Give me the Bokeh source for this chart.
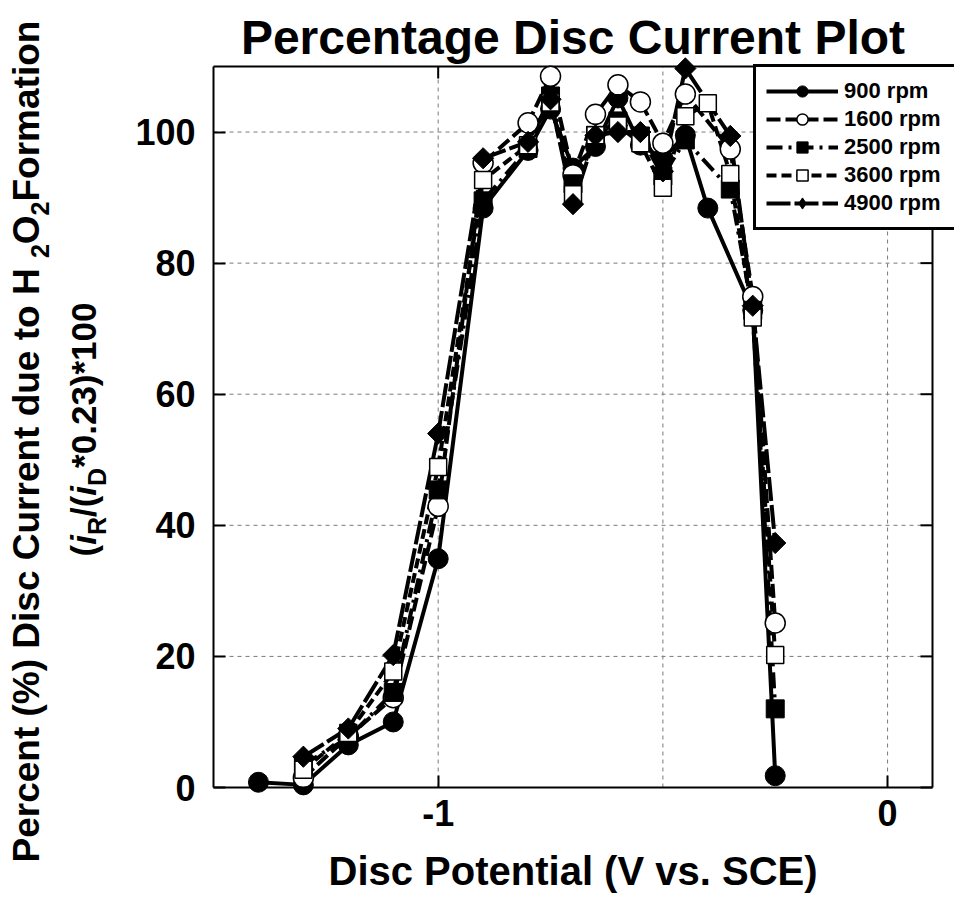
import math
from bokeh.plotting import figure
from bokeh.models import Range1d, FixedTicker, Legend, LegendItem, Label
from bokeh.embed import file_html
from bokeh.resources import INLINE

# ---- data ----
x_900 = [-1.4, -1.3, -1.2, -1.1, -1.0, -0.9, -0.8, -0.75, -0.7, -0.65, -0.6, -0.55, -0.5, -0.45, -0.4, -0.3, -0.25]
y_900 = [0.8, 0.4, 6.5, 10.0, 34.9, 88.4, 97.2, 103.5, 94.5, 97.8, 105.2, 98.0, 96.0, 99.5, 88.4, 72.8, 1.8]

x_1600 = [-1.3, -1.2, -1.1, -1.0, -0.9, -0.8, -0.75, -0.7, -0.65, -0.6, -0.55, -0.5, -0.45, -0.35, -0.3, -0.25]
y_1600 = [1.5, 7.8, 13.7, 42.9, 95.3, 101.4, 108.5, 93.5, 102.7, 107.2, 104.6, 98.3, 105.8, 97.4, 74.9, 25.1]

x_2500 = [-1.3, -1.2, -1.1, -1.0, -0.9, -0.8, -0.75, -0.7, -0.65, -0.6, -0.55, -0.5, -0.45, -0.35, -0.3, -0.25]
y_2500 = [3.5, 7.6, 14.5, 45.4, 89.5, 97.5, 105.5, 92.1, 99.5, 101.7, 99.4, 93.3, 98.8, 91.3, 72.8, 12.0]

x_3600 = [-1.3, -1.2, -1.1, -1.0, -0.9, -0.8, -0.75, -0.7, -0.65, -0.6, -0.55, -0.5, -0.45, -0.4, -0.35, -0.3, -0.25]
y_3600 = [2.7, 8.3, 17.7, 48.9, 92.7, 98.0, 104.5, 90.5, 99.5, 101.0, 98.3, 91.5, 102.4, 104.4, 93.6, 71.7, 20.2]

x_4900 = [-1.3, -1.2, -1.1, -1.0, -0.9, -0.8, -0.75, -0.7, -0.65, -0.6, -0.55, -0.5, -0.45, -0.35, -0.3, -0.25]
y_4900 = [4.7, 9.0, 20.2, 54.0, 96.0, 98.5, 105.0, 89.0, 99.5, 100.0, 100.0, 94.0, 109.7, 99.4, 73.5, 37.3]

series_labels = ["900 rpm", "1600 rpm", "2500 rpm", "3600 rpm", "4900 rpm"]
x_ticks = [-1, 0]
x_tick_labels = {-1: "-1", 0: "0"}
x_grid = [-1, -0.5, 0]
y_ticks = [0, 20, 40, 60, 80, 100]
y_grid = [20, 40, 60, 80, 100]
X_MIN, X_MAX = -1.5, 0.1
Y_MIN, Y_MAX = 0, 110

FONT = "Liberation Sans"
BLACK = "black"
GRID = "#7a7a7a"

# ---- layout geometry (canvas pixels) ----
CANVAS_W, CANVAS_H = 954, 912
FRAME_L, FRAME_R = 213, 932     # plot box
FRAME_T, FRAME_B = 66, 787
# the drawing frame covers the whole canvas; the plot box is placed through the ranges
px_x = (FRAME_R - FRAME_L) / (X_MAX - X_MIN)
px_y = (FRAME_B - FRAME_T) / (Y_MAX - Y_MIN)
x_lo = X_MIN - FRAME_L / px_x
x_hi = X_MIN + (CANVAS_W - FRAME_L) / px_x
y_lo = Y_MIN - (CANVAS_H - FRAME_B) / px_y
y_hi = Y_MAX + FRAME_T / px_y

p = figure(width=CANVAS_W, height=CANVAS_H, title=None,
           x_range=Range1d(x_lo, x_hi), y_range=Range1d(y_lo, y_hi),
           output_backend="svg", toolbar_location=None,
           min_border_left=0, min_border_right=0, min_border_top=0, min_border_bottom=0)
p.background_fill_color = "white"
p.border_fill_color = "white"
p.outline_line_color = None
p.xgrid.visible = False
p.ygrid.visible = False

# axes drawn at the plot-box edges
for ax in (p.xaxis[0], p.yaxis[0]):
    ax.major_label_text_font = FONT
    ax.major_label_text_font_size = "36px"
    ax.major_label_text_font_style = "bold"
    ax.major_label_text_color = BLACK
    ax.major_tick_in = 12
    ax.major_tick_out = 0
    ax.major_tick_line_width = 2
    ax.major_tick_line_color = BLACK
    ax.minor_tick_line_color = None
    ax.axis_line_width = 2
    ax.axis_line_color = BLACK

p.xaxis.fixed_location = Y_MIN
p.xaxis.bounds = (X_MIN, X_MAX)
p.xaxis.ticker = FixedTicker(ticks=x_ticks)
p.xaxis.major_label_overrides = x_tick_labels
p.xaxis.major_label_standoff = 12

p.yaxis.fixed_location = X_MIN
p.yaxis.bounds = (Y_MIN, Y_MAX)
p.yaxis.ticker = FixedTicker(ticks=y_ticks)
p.yaxis.major_label_standoff = 18

# grid lines (inside the plot box only)
p.segment(x0=x_grid, y0=[Y_MIN] * len(x_grid), x1=x_grid, y1=[Y_MAX] * len(x_grid),
          line_color=GRID, line_dash="4 4", line_width=1)
p.segment(x0=[X_MIN] * len(y_grid), y0=y_grid, x1=[X_MAX] * len(y_grid), y1=y_grid,
          line_color=GRID, line_dash="4 4", line_width=1)
# top / right border of the plot box and mirrored ticks
p.segment(x0=[X_MIN, X_MAX], y0=[Y_MAX, Y_MIN], x1=[X_MAX, X_MAX], y1=[Y_MAX, Y_MAX],
          line_color=BLACK, line_width=2)
p.ray(x=[X_MAX] * len(y_ticks), y=y_ticks, length=12, length_units="screen", angle=math.pi,
      line_color=BLACK, line_width=2)
p.ray(x=x_ticks, y=[Y_MAX] * len(x_ticks), length=12, length_units="screen", angle=-math.pi / 2,
      line_color=BLACK, line_width=2)

# lines
l900 = p.line(x_900, y_900, line_color=BLACK, line_width=4)
l1600 = p.line(x_1600, y_1600, line_color=BLACK, line_width=4, line_dash="14 5")
l2500 = p.line(x_2500, y_2500, line_color=BLACK, line_width=4, line_dash="16 6 3 6")
l3600 = p.line(x_3600, y_3600, line_color=BLACK, line_width=4, line_dash="10 5")
l4900 = p.line(x_4900, y_4900, line_color=BLACK, line_width=4, line_dash="24 4")

# markers
m900 = p.scatter(x_900, y_900, marker="circle", size=20, fill_color=BLACK, line_color=BLACK)
m1600 = p.scatter(x_1600, y_1600, marker="circle", size=20, fill_color="white", line_color=BLACK, line_width=1.5)
m2500 = p.scatter(x_2500, y_2500, marker="square", size=18, fill_color=BLACK, line_color=BLACK)
m3600 = p.scatter(x_3600, y_3600, marker="square", size=17, fill_color="white", line_color=BLACK, line_width=1.5)
# diamond glyph used for the legend swatch (fully covered by the rotated squares below)
m4900_key = p.scatter(x_4900, y_4900, marker="diamond", size=18, fill_color=BLACK, line_color=BLACK)
m4900 = p.scatter(x_4900, y_4900, marker="square", angle=math.pi / 4, size=15, fill_color=BLACK, line_color=BLACK)

legend = Legend(items=[
    LegendItem(label=series_labels[0], renderers=[l900, m900]),
    LegendItem(label=series_labels[1], renderers=[l1600, m1600]),
    LegendItem(label=series_labels[2], renderers=[l2500, m2500]),
    LegendItem(label=series_labels[3], renderers=[l3600, m3600]),
    LegendItem(label=series_labels[4], renderers=[l4900, m4900_key]),
], location=(753, CANVAS_H - 230))
legend.label_text_font = FONT
legend.label_text_font_size = "22px"
legend.label_text_font_style = "bold"
legend.label_text_color = BLACK
legend.border_line_color = BLACK
legend.border_line_alpha = 1.0
legend.border_line_width = 3
legend.background_fill_color = "white"
legend.background_fill_alpha = 1.0
legend.padding = 10
legend.spacing = 0
legend.margin = 0
legend.glyph_width = 72
legend.glyph_height = 28
legend.label_height = 28
legend.label_width = 112
legend.label_standoff = 6
p.add_layout(legend)

# title and x-axis title (screen units: from the canvas' bottom-left)
cx = (FRAME_L + FRAME_R) / 2
p.add_layout(Label(x=cx, y=CANVAS_H - 37, x_units="screen", y_units="screen",
                   text="Percentage Disc Current Plot", text_font=FONT, text_font_size="48px",
                   text_font_style="bold", text_color=BLACK, text_align="center",
                   text_baseline="middle"))
p.add_layout(Label(x=cx, y=CANVAS_H - 870, x_units="screen", y_units="screen",
                   text="Disc Potential (V vs. SCE)", text_font=FONT, text_font_size="40px",
                   text_font_style="bold", text_color=BLACK, text_align="center",
                   text_baseline="middle"))


# rotated two-line y-axis title with subscripts
def rotated_run(pieces, base_x, start_y, sub_shift):
    """pieces: (text, size_px, style, is_sub, advance_em); start_y = canvas y of the run's start."""
    pos = CANVAS_H - start_y
    for txt, sz, style, sub, adv in pieces:
        p.add_layout(Label(x=base_x + (sub_shift if sub else 0), y=pos,
                           x_units="screen", y_units="screen", angle=math.pi / 2,
                           text=txt, text_font=FONT, text_font_size=f"{sz}px",
                           text_font_style=style, text_color=BLACK,
                           text_align="left", text_baseline="alphabetic"))
        pos += adv * sz


F1, S1 = 37, 25
rotated_run([("Percent (%) Disc Current  due to H", F1, "bold", 0, 16.336),
             ("2", S1, "bold", 1, 0.556),
             ("O", F1, "bold", 0, 0.778),
             ("2", S1, "bold", 1, 0.556),
             (" Formation", F1, "bold", 0, 5.167)],
            base_x=26, start_y=862, sub_shift=13)

F2, S2 = 35, 25
rotated_run([("(", F2, "bold", 0, 0.333), ("i", F2, "bold italic", 0, 0.278),
             ("R", S2, "bold", 1, 0.722), ("/(", F2, "bold", 0, 0.611),
             ("i", F2, "bold italic", 0, 0.278), ("D", S2, "bold", 1, 0.722),
             ("*0.23)*100", F2, "bold", 0, 4.725)],
            base_x=83, start_y=556, sub_shift=13)

open("out.html", "w").write(file_html(p, INLINE))
